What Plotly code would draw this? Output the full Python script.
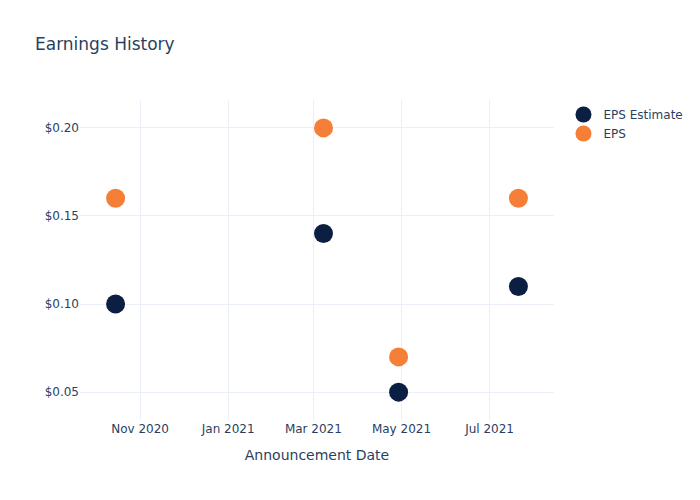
import plotly.graph_objects as go

dates = ["2020-10-15", "2021-03-08", "2021-04-29", "2021-07-21"]
eps_estimate = [0.10, 0.14, 0.05, 0.11]
eps_actual = [0.16, 0.20, 0.07, 0.16]

fig = go.Figure()
fig.add_trace(go.Scatter(x=dates, y=eps_estimate, mode="markers", name="EPS Estimate",
                         marker=dict(color="#0b1f42", size=19)))
fig.add_trace(go.Scatter(x=dates, y=eps_actual, mode="markers", name="EPS",
                         marker=dict(color="#f57f37", size=19)))
fig.update_layout(
    template="plotly_white",
    width=700, height=500,
    font=dict(family="DejaVu Sans"),
    title=dict(text="Earnings History"),
    xaxis=dict(title=dict(text="Announcement Date")),
    yaxis=dict(tickformat="$.2f"),
)
fig.write_html("out.html")
